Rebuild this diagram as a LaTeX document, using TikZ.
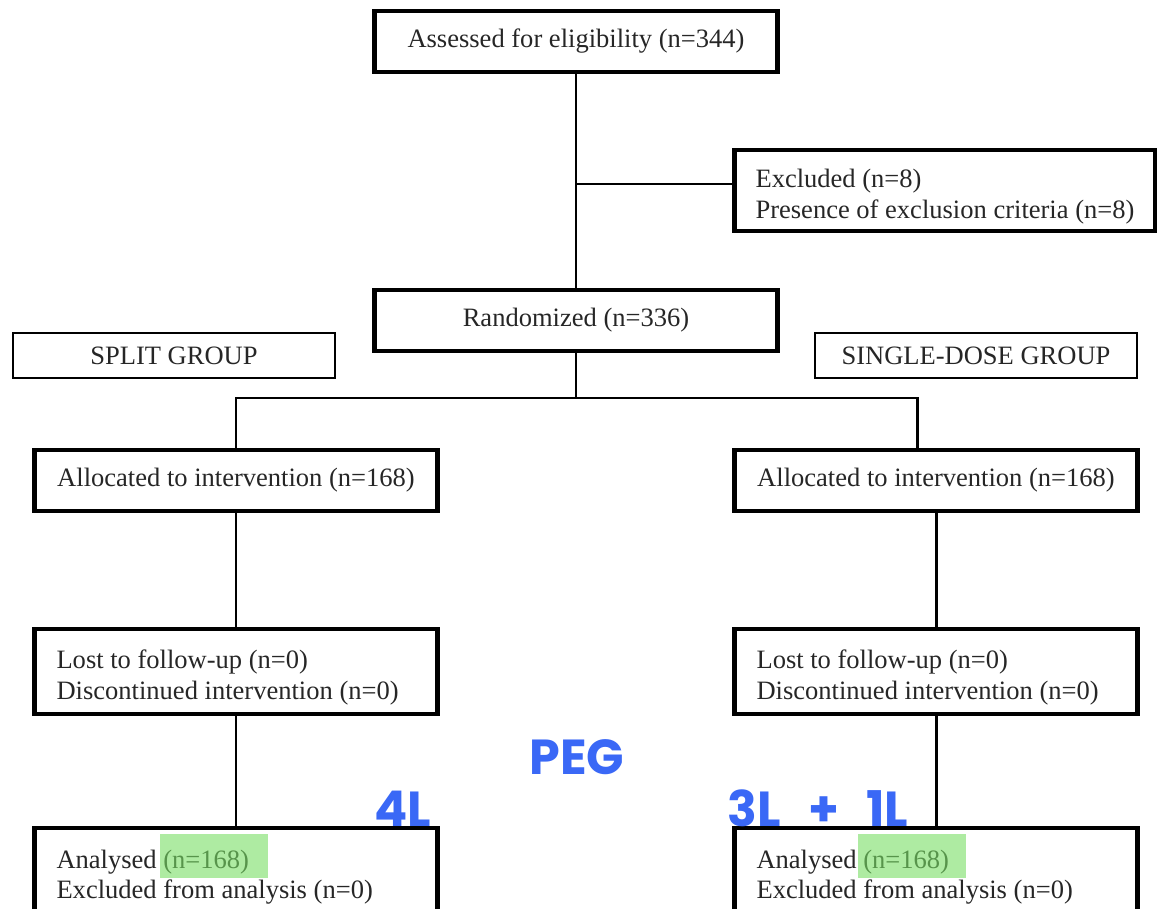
\documentclass[tikz,border=0pt]{standalone}
\usepackage{fontspec}
\setmainfont{Liberation Serif}
\newfontfamily\handfont{Poppins}
\definecolor{pen}{RGB}{58,104,246}
\definecolor{hilite}{RGB}{120,222,100}

\begin{document}
\begin{tikzpicture}[x=0.02cm, y=-0.02cm,
    every node/.style={font=\fontsize{15.1}{17.6}\selectfont, text=black!85},
    box/.style={draw, line width=2.4pt, inner sep=0pt, minimum width=8.06cm, minimum height=1.22cm},
    listbox/.style={box, align=flush left, text width=7.18cm, inner xsep=0.44cm,
        execute at begin node={\rule{0pt}{17.5pt}}},
    grp/.style={draw, line width=1.6pt, inner sep=0pt, minimum width=6.44cm, minimum height=0.9cm},
    link/.style={line width=1.7pt},
    hand/.style={text=pen, anchor=base, font=\handfont\bfseries\fontsize{28}{28}\selectfont}]

    \useasboundingbox (0,0) rectangle (1157,909);
    \clip (0,0) rectangle (1157,909);

    % top:
    \node[box] (assess) at (576,41.5) {Assessed for eligibility (n=344)};
    \node[listbox, text width=7.58cm, inner xsep=0.42cm, minimum width=8.42cm, minimum height=1.62cm] (excl) at (945,190.5)
        {Excluded (n=8)\\Presence of exclusion criteria (n=8)};
    \node[box] (rand) at (576,320.5) {Randomized (n=336)};

    % groups:
    \node[grp] (split) at (174,355.5) {SPLIT GROUP};
    \node[grp] (single) at (976,355.5) {SINGLE-DOSE GROUP};

    % left:
    \node[box] (allocl) at (236,480.5) {Allocated to intervention (n=168)};
    \node[listbox, minimum height=1.7cm] (lostl) at (236,671.5) {Lost to follow-up (n=0)\\Discontinued intervention (n=0)};
    \node[listbox, minimum height=1.72cm] (anal) at (236,871) {Analysed (n=168)\\Excluded from analysis (n=0)};

    % right:
    \node[box] (allocr) at (936,480.5) {Allocated to intervention (n=168)};
    \node[listbox, minimum height=1.7cm] (lostr) at (936,671.5) {Lost to follow-up (n=0)\\Discontinued intervention (n=0)};
    \node[listbox, minimum height=1.72cm] (anar) at (936,871) {Analysed (n=168)\\Excluded from analysis (n=0)};

    % links:
    \coordinate (exj) at (576,184);
    \coordinate (rj) at (576,398);
    \coordinate (rr) at (917,398);
    \draw[link] (assess.south) -- (rand.north);
    \draw[link] (exj) -- (exj -| excl.west);
    \draw[link] (rand.south) -- (rj);
    \draw[link] (allocl.north) |- (rr) -- (rr |- allocr.north);
    \draw[link] (allocl.south) -- (lostl.north);
    \draw[link] (lostl.south) -- (anal.north);
    \draw[link] (allocr.south) -- (lostr.north);
    \draw[link] (lostr.south) -- (anar.north);

    % highlights:
    \fill[hilite, opacity=0.6] (160,834) rectangle (268,878);
    \fill[hilite, opacity=0.6] (858,834) rectangle (966,878);
    \node[hand] (peg) at (577,774) {PEG};
    \node[hand] (four) at (403,826) {4L};
    \node[hand] (three) at (818,826) {3L\hspace{0.55em}+\hspace{0.55em}1L};

\end{tikzpicture}
\end{document}
